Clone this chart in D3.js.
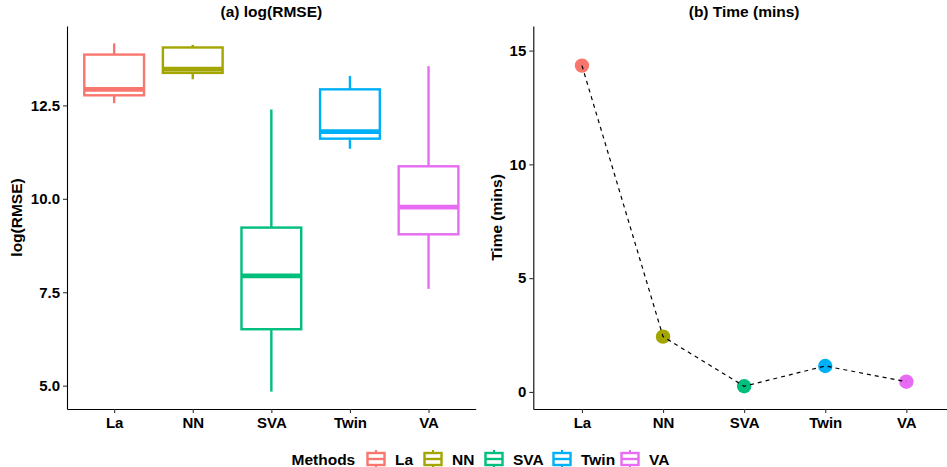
<!DOCTYPE html>
<html>
<head>
<meta charset="utf-8">
<script src="https://cdn.jsdelivr.net/npm/d3@7"></script>
<style>
  body { margin: 0; background: #fff; }
  text { font-family: "Liberation Sans", Arial, sans-serif; font-weight: bold; }
</style>
</head>
<body>
<div id="chart"></div>
<script>
// Methods, shared by both panels
var methods = ["La", "NN", "SVA", "Twin", "VA"];
var colors = ["#F8766D", "#A3A500", "#00BF7D", "#00B0F6", "#E76BF3"];

// (a) log(RMSE) box stats
var whiskerLow  = [12.56, 13.20, 4.84, 11.34, 7.59];
var q1          = [12.77, 13.37, 6.51, 11.61, 9.05];
var median      = [12.93, 13.47, 7.94, 11.80, 9.78];
var q3          = [13.86, 14.05, 9.23, 12.93, 10.87];
var whiskerHigh = [14.16, 14.12, 12.39, 13.29, 13.55];
var rmseTicks = [5.0, 7.5, 10.0, 12.5];

// (b) Time (mins)
var timeMins = [14.34, 2.43, 0.25, 1.14, 0.45];
var timeTicks = [0, 5, 10, 15];

var W = 947, H = 467;
var svg = d3.select("#chart").append("svg")
  .attr("width", W).attr("height", H);

var plotTop = 26, plotBottom = 409;
var color = d3.scaleOrdinal().domain(methods).range(colors);

function styleAxis(g) {
  g.selectAll(".domain").attr("stroke", "#000").attr("stroke-width", 1.1);
  g.selectAll(".tick line").attr("stroke", "#333").attr("stroke-width", 1.1);
  g.selectAll(".tick text").attr("fill", "#000").style("font-size", "15px");
}

// ---------- panel a ----------
var xa = d3.scalePoint().domain(methods).range([67, 475.7]).padding(0.6);
var ya = d3.scaleLinear().domain([4.375, 14.625]).range([plotBottom, plotTop]);
var boxW = xa.step() * 0.76;

svg.append("g")
  .attr("transform", "translate(0," + plotBottom + ")")
  .call(d3.axisBottom(xa).tickSize(4).tickSizeOuter(0).tickPadding(4))
  .call(styleAxis);
svg.append("g")
  .attr("transform", "translate(67,0)")
  .call(d3.axisLeft(ya).tickValues(rmseTicks).tickFormat(d3.format(".1f")).tickSize(4).tickSizeOuter(0).tickPadding(3))
  .call(styleAxis);

var boxes = svg.append("g").selectAll("g")
  .data(methods)
  .enter().append("g");

boxes.append("line")
  .attr("x1", d => xa(d)).attr("x2", d => xa(d))
  .attr("y1", (d, i) => ya(whiskerHigh[i])).attr("y2", (d, i) => ya(q3[i]))
  .attr("stroke", d => color(d)).attr("stroke-width", 2.4);
boxes.append("line")
  .attr("x1", d => xa(d)).attr("x2", d => xa(d))
  .attr("y1", (d, i) => ya(q1[i])).attr("y2", (d, i) => ya(whiskerLow[i]))
  .attr("stroke", d => color(d)).attr("stroke-width", 2.4);
boxes.append("rect")
  .attr("x", d => xa(d) - boxW / 2)
  .attr("width", boxW)
  .attr("y", (d, i) => ya(q3[i]))
  .attr("height", (d, i) => ya(q1[i]) - ya(q3[i]))
  .attr("fill", "#fff")
  .attr("stroke", d => color(d)).attr("stroke-width", 2.4);
boxes.append("line")
  .attr("x1", d => xa(d) - boxW / 2).attr("x2", d => xa(d) + boxW / 2)
  .attr("y1", (d, i) => ya(median[i])).attr("y2", (d, i) => ya(median[i]))
  .attr("stroke", d => color(d)).attr("stroke-width", 4.8);

svg.append("text")
  .attr("x", (67 + 475.7) / 2).attr("y", 17)
  .attr("text-anchor", "middle").style("font-size", "15.5px")
  .text("(a) log(RMSE)");
svg.append("text")
  .attr("transform", "translate(22," + (plotTop + plotBottom) / 2 + ") rotate(-90)")
  .attr("text-anchor", "middle").style("font-size", "15.5px")
  .text("log(RMSE)");

// ---------- panel b ----------
var xb = d3.scalePoint().domain(methods).range([533.3, 955]).padding(0.6);
var yb = d3.scaleLinear().domain([-0.75, 16.08]).range([plotBottom, plotTop]);

svg.append("g")
  .attr("transform", "translate(0," + plotBottom + ")")
  .call(d3.axisBottom(xb).tickSize(4).tickSizeOuter(0).tickPadding(4))
  .call(styleAxis);
svg.append("g")
  .attr("transform", "translate(533.3,0)")
  .call(d3.axisLeft(yb).tickValues(timeTicks).tickSize(4).tickSizeOuter(0).tickPadding(3))
  .call(styleAxis);

svg.append("g").selectAll("circle")
  .data(methods)
  .enter().append("circle")
  .attr("cx", d => xb(d))
  .attr("cy", (d, i) => yb(timeMins[i]))
  .attr("r", 7.2)
  .attr("fill", d => color(d));

var line = d3.line()
  .x(d => xb(d))
  .y((d, i) => yb(timeMins[i]));
svg.append("path")
  .datum(methods)
  .attr("d", line)
  .attr("fill", "none")
  .attr("stroke", "#000")
  .attr("stroke-width", 1.2)
  .attr("stroke-dasharray", "4,4");

svg.append("text")
  .attr("x", (533.3 + 955) / 2).attr("y", 17)
  .attr("text-anchor", "middle").style("font-size", "15.5px")
  .text("(b) Time (mins)");
svg.append("text")
  .attr("transform", "translate(502," + (plotTop + plotBottom) / 2 + ") rotate(-90)")
  .attr("text-anchor", "middle").style("font-size", "15.5px")
  .text("Time (mins)");

// ---------- legend ----------
var legY = 459;
var keyX = [366, 423, 484, 552, 620];
var leg = svg.append("g");
leg.append("text")
  .attr("x", 291.5).attr("y", legY + 5.5)
  .style("font-size", "15.5px")
  .text("Methods");

var keys = leg.selectAll("g.key")
  .data(methods)
  .enter().append("g")
  .attr("class", "key")
  .attr("transform", (d, i) => "translate(" + keyX[i] + "," + legY + ")");
keys.append("line")
  .attr("x1", 10).attr("x2", 10).attr("y1", -9).attr("y2", 9)
  .attr("stroke", d => color(d)).attr("stroke-width", 2);
keys.append("rect")
  .attr("x", 1.5).attr("y", -6).attr("width", 17).attr("height", 12)
  .attr("fill", "#fff")
  .attr("stroke", d => color(d)).attr("stroke-width", 2.4);
keys.append("line")
  .attr("x1", 1.5).attr("x2", 18.5).attr("y1", 0).attr("y2", 0)
  .attr("stroke", d => color(d)).attr("stroke-width", 2.4);
keys.append("text")
  .attr("x", 29).attr("y", 5.5)
  .style("font-size", "15.5px")
  .text(d => d);
</script>
</body>
</html>
